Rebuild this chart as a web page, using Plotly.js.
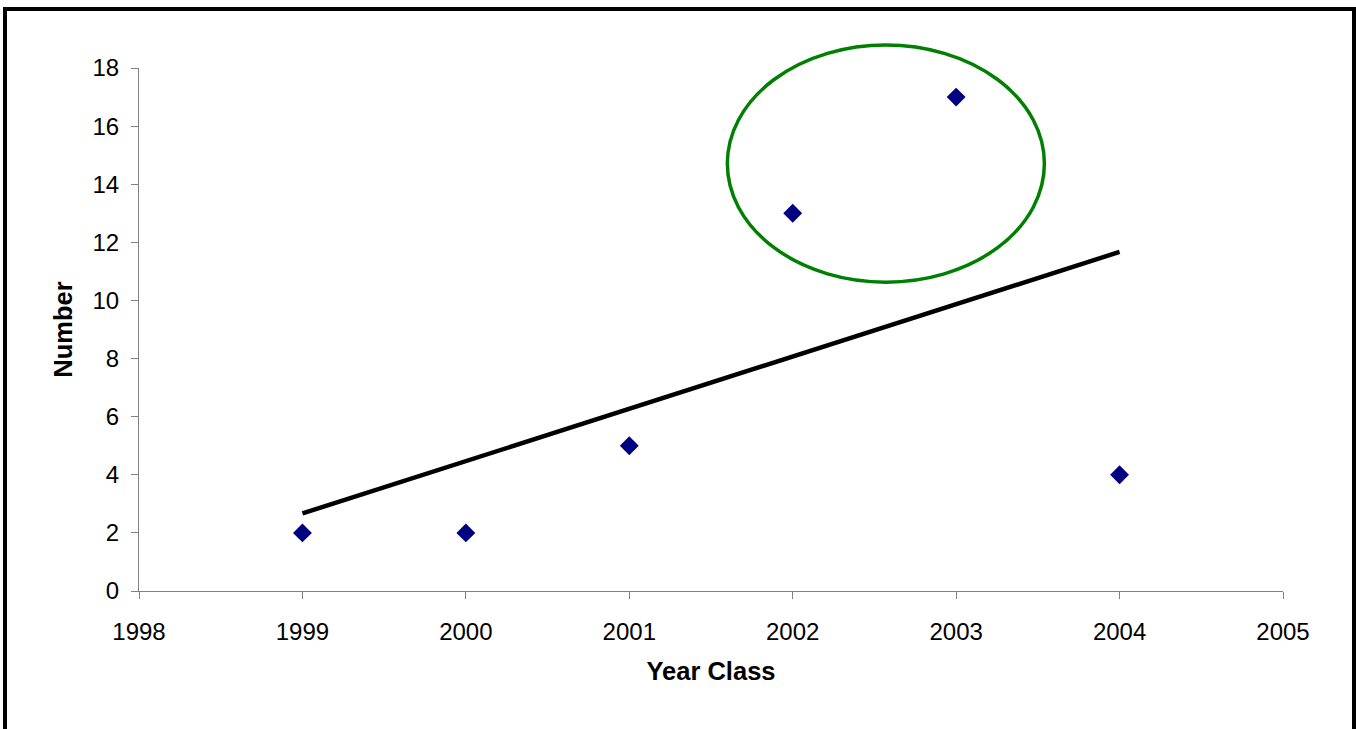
<!DOCTYPE html>
<html>
<head>
<meta charset="utf-8">
<script src="https://cdn.plot.ly/plotly-3.0.1.min.js"></script>
<style>
  html, body { margin: 0; padding: 0; background: #ffffff; overflow: hidden; }
  #chart { width: 1356px; height: 729px; position: absolute; left: 0; top: 0; }
  #frame { position: absolute; left: 3px; top: 7px; width: 1345px; height: 760px;
           border-left: 4px solid #000; border-top: 4px solid #000; border-right: 4px solid #000;
           pointer-events: none; }
</style>
</head>
<body>
<div id="chart"></div>
<div id="frame"></div>
<script>
// Data
const yearClass = [1999, 2000, 2001, 2002, 2003, 2004];
const numberCaught = [2, 2, 5, 13, 17, 4];

// Linear trend line end points (as drawn)
const trendYears = [1999, 2004];
const trendValues = [2.67, 11.67];

// Highlight ellipse around 2002-2003, in data units
const ellipseYears = [2001.60, 2003.54];
const ellipseValues = [10.63, 18.79];

// Axis ranges and ticks
const xRange = [1998, 2005];
const yRange = [0, 18];

const toPaperX = v => (v - xRange[0]) / (xRange[1] - xRange[0]);
const toPaperY = v => (v - yRange[0]) / (yRange[1] - yRange[0]);

const tickFont = { family: 'Liberation Sans, Arial, sans-serif', size: 24, color: '#000000' };
const titleFont = { family: 'Liberation Sans, Arial, sans-serif', size: 25.5, color: '#000000', weight: 'bold' };

const traces = [
  {
    x: trendYears,
    y: trendValues,
    type: 'scatter',
    mode: 'lines',
    line: { color: '#000000', width: 4.5 },
    hoverinfo: 'skip',
    showlegend: false
  },
  {
    x: yearClass,
    y: numberCaught,
    type: 'scatter',
    mode: 'markers',
    marker: { symbol: 'diamond', size: 14.5, color: '#000080', line: { width: 0 } },
    showlegend: false
  }
];

const layout = {
  width: 1356,
  height: 729,
  margin: { l: 139, r: 73, t: 68, b: 138 },
  paper_bgcolor: '#ffffff',
  plot_bgcolor: '#ffffff',
  showlegend: false,
  xaxis: {
    range: xRange,
    tickmode: 'linear',
    tick0: 1998,
    dtick: 1,
    showgrid: false,
    zeroline: false,
    showline: true,
    linecolor: '#808080',
    linewidth: 1,
    ticks: 'outside',
    ticklen: 7,
    tickcolor: '#808080',
    tickwidth: 1,
    tickfont: tickFont,
    tickformat: 'd',
    ticklabelstandoff: 12,
    title: { text: 'Year Class', font: titleFont, standoff: 18 },
    fixedrange: true
  },
  yaxis: {
    range: yRange,
    tickmode: 'linear',
    tick0: 0,
    dtick: 2,
    showgrid: false,
    zeroline: false,
    showline: true,
    linecolor: '#808080',
    linewidth: 1,
    ticks: 'outside',
    ticklen: 7,
    tickcolor: '#808080',
    tickwidth: 1,
    tickfont: tickFont,
    ticklabelstandoff: 7,
    title: { text: 'Number', font: titleFont, standoff: 12 },
    fixedrange: true
  },
  shapes: [
    {
      type: 'circle',
      xref: 'paper',
      yref: 'paper',
      x0: toPaperX(ellipseYears[0]),
      x1: toPaperX(ellipseYears[1]),
      y0: toPaperY(ellipseValues[0]),
      y1: toPaperY(ellipseValues[1]),
      line: { color: '#008000', width: 3.5 },
      fillcolor: 'rgba(0,0,0,0)'
    }
  ]
};

Plotly.newPlot('chart', traces, layout, { displayModeBar: false, staticPlot: true });
</script>
</body>
</html>
